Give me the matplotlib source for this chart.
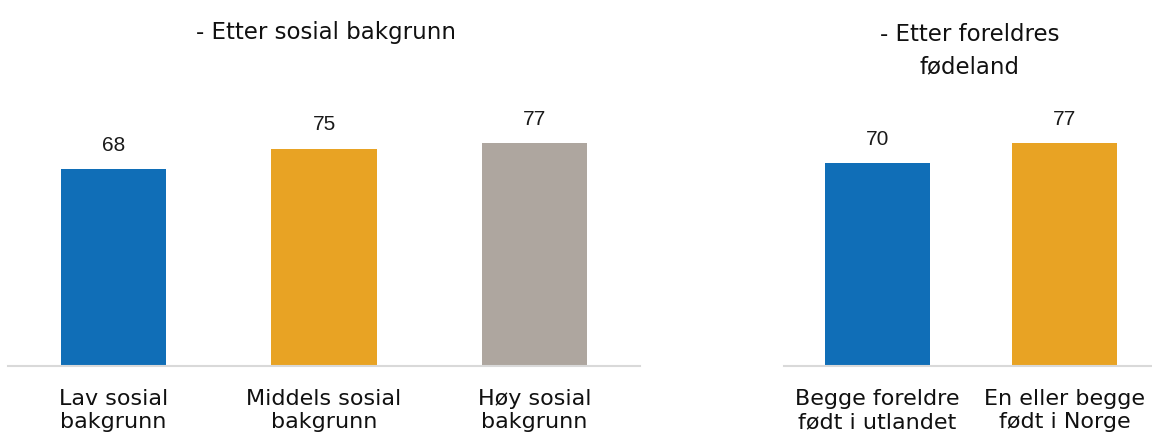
import matplotlib.pyplot as plt

# Data
sosial_labels = ['Lav sosial\nbakgrunn', 'Middels sosial\nbakgrunn', 'Høy sosial\nbakgrunn']
sosial_values = [68, 75, 77]
sosial_colors = ['#106eb7', '#e8a324', '#aea69f']

foedeland_labels = ['Begge foreldre\nfødt i utlandet', 'En eller begge\nfødt i Norge']
foedeland_values = [70, 77]
foedeland_colors = ['#106eb7', '#e8a324']

W, H = 1152, 445
fig = plt.figure(figsize=(W / 100, H / 100), dpi=100)

base_y = 365.5
ymax = 90
px_per_unit = 2.89
ax_h = ymax * px_per_unit
txt_font = 'DejaVu Sans'


def make_axes(x0, x1):
    return fig.add_axes([x0 / W, (H - base_y) / H, (x1 - x0) / W, ax_h / H])


def draw_panel(ax, labels, values, colors, width, xlim):
    x = range(len(values))
    ax.bar(x, values, width=width, color=colors)
    for xi, v in zip(x, values):
        ax.text(xi, v + 5, str(v), ha='center', va='bottom',
                fontsize=15, family='Liberation Sans', color='#1a1a1a')
    ax.set_xlim(*xlim)
    ax.set_ylim(0, ymax)
    ax.set_yticks([])
    ax.set_xticks(list(x))
    ax.set_xticklabels(labels, fontsize=16, family=txt_font, linespacing=1.2,
                       color='#111111')
    ax.tick_params(axis='x', length=0, pad=17)
    for s in ['top', 'right', 'left']:
        ax.spines[s].set_visible(False)
    ax.spines['bottom'].set_color('#d9d9d9')
    ax.spines['bottom'].set_linewidth(1.5)
    ax.patch.set_alpha(0)


ax1 = make_axes(8, 640)
draw_panel(ax1, sosial_labels, sosial_values, sosial_colors, 0.5, (-0.5, 2.5))

ax2 = make_axes(784, 1152)
draw_panel(ax2, foedeland_labels, foedeland_values, foedeland_colors, 0.56,
           (-0.5, -0.5 + 368 / 187))

fig.text(326 / W, 1 - 39 / H, '- Etter sosial bakgrunn', ha='center', va='baseline',
         fontsize=16.5, family=txt_font, color='#111111')
fig.text(970 / W, 1 - 73 / H, '- Etter foreldres\nfødeland', ha='center', va='baseline',
         fontsize=16.5, family=txt_font, color='#111111', linespacing=1.5)

fig.savefig('out.png', dpi=100)
